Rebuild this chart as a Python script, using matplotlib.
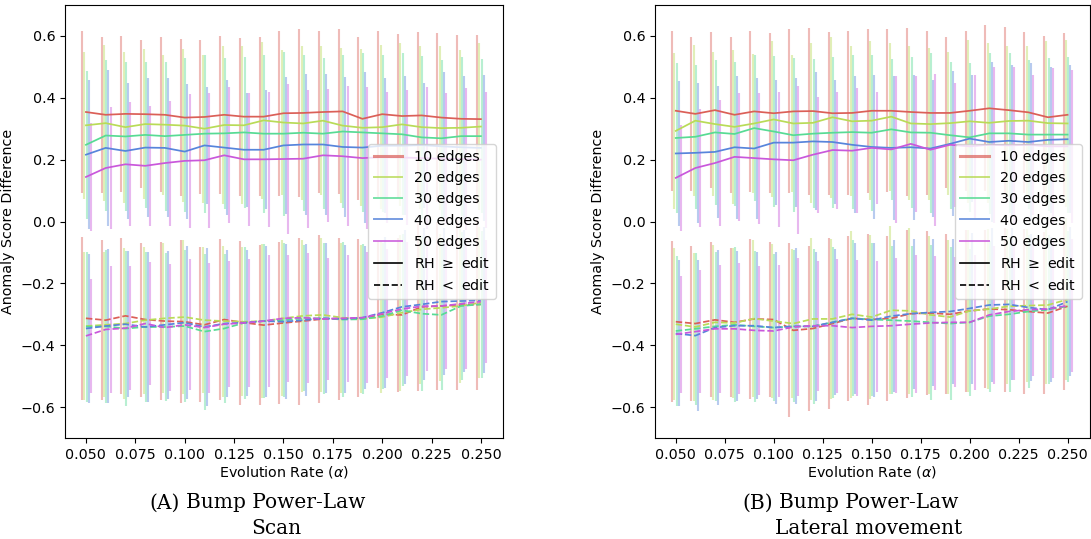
import matplotlib
matplotlib.use('Agg')
import matplotlib.pyplot as plt
from matplotlib.lines import Line2D
import numpy as np
import seaborn as sns

# evolution rates on the x axis
alphas = [0.05, 0.06, 0.07, 0.08, 0.09, 0.10, 0.11, 0.12, 0.13, 0.14, 0.15,
          0.16, 0.17, 0.18, 0.19, 0.20, 0.21, 0.22, 0.23, 0.24, 0.25]
edge_labels = ['10 edges', '20 edges', '30 edges', '40 edges', '50 edges']

# (A) Scan -- RH >= edit
scan_pos_mean = [
    [0.354, 0.345, 0.348, 0.347, 0.345, 0.336, 0.338, 0.345, 0.339, 0.339, 0.350, 0.351, 0.354, 0.356, 0.332, 0.347, 0.341, 0.343, 0.336, 0.332, 0.331],
    [0.311, 0.318, 0.305, 0.315, 0.313, 0.310, 0.300, 0.312, 0.311, 0.327, 0.320, 0.317, 0.326, 0.310, 0.303, 0.305, 0.314, 0.305, 0.302, 0.303, 0.307],
    [0.248, 0.278, 0.275, 0.280, 0.276, 0.280, 0.284, 0.285, 0.288, 0.284, 0.284, 0.287, 0.284, 0.291, 0.288, 0.285, 0.282, 0.272, 0.269, 0.276, 0.276],
    [0.216, 0.238, 0.228, 0.239, 0.238, 0.226, 0.246, 0.239, 0.232, 0.232, 0.246, 0.249, 0.249, 0.241, 0.239, 0.245, 0.245, 0.247, 0.243, 0.240, 0.238],
    [0.144, 0.173, 0.185, 0.180, 0.189, 0.196, 0.198, 0.214, 0.201, 0.201, 0.202, 0.203, 0.214, 0.211, 0.205, 0.208, 0.207, 0.205, 0.203, 0.202, 0.200],
]
scan_pos_std = [
    [0.262, 0.252, 0.253, 0.240, 0.250, 0.254, 0.250, 0.255, 0.255, 0.257, 0.266, 0.272, 0.262, 0.267, 0.263, 0.269, 0.266, 0.270, 0.274, 0.272, 0.273],
    [0.238, 0.253, 0.244, 0.242, 0.226, 0.247, 0.239, 0.257, 0.255, 0.253, 0.235, 0.249, 0.240, 0.250, 0.254, 0.266, 0.264, 0.263, 0.264, 0.252, 0.271],
    [0.239, 0.245, 0.242, 0.237, 0.241, 0.248, 0.255, 0.243, 0.245, 0.255, 0.265, 0.252, 0.244, 0.248, 0.256, 0.254, 0.262, 0.264, 0.254, 0.257, 0.249],
    [0.240, 0.252, 0.221, 0.224, 0.225, 0.219, 0.188, 0.217, 0.185, 0.192, 0.221, 0.228, 0.228, 0.226, 0.243, 0.218, 0.224, 0.202, 0.239, 0.231, 0.236],
    [0.175, 0.197, 0.200, 0.194, 0.202, 0.217, 0.219, 0.220, 0.216, 0.219, 0.243, 0.223, 0.214, 0.226, 0.229, 0.212, 0.217, 0.229, 0.212, 0.229, 0.220],
]
# (A) Scan -- RH < edit
scan_neg_mean = [
    [-0.313, -0.319, -0.305, -0.317, -0.322, -0.324, -0.334, -0.317, -0.327, -0.335, -0.328, -0.322, -0.315, -0.314, -0.313, -0.300, -0.302, -0.276, -0.273, -0.270, -0.268],
    [-0.338, -0.334, -0.330, -0.319, -0.313, -0.309, -0.319, -0.322, -0.324, -0.322, -0.313, -0.305, -0.302, -0.311, -0.315, -0.309, -0.295, -0.284, -0.279, -0.273, -0.262],
    [-0.340, -0.339, -0.346, -0.341, -0.341, -0.338, -0.356, -0.346, -0.328, -0.322, -0.319, -0.313, -0.313, -0.317, -0.316, -0.306, -0.287, -0.298, -0.302, -0.273, -0.268],
    [-0.346, -0.338, -0.332, -0.341, -0.334, -0.327, -0.341, -0.330, -0.327, -0.322, -0.324, -0.319, -0.313, -0.315, -0.311, -0.295, -0.276, -0.268, -0.259, -0.257, -0.255],
    [-0.370, -0.349, -0.345, -0.330, -0.343, -0.334, -0.343, -0.332, -0.328, -0.322, -0.313, -0.311, -0.315, -0.313, -0.311, -0.298, -0.283, -0.274, -0.273, -0.266, -0.259],
]
scan_neg_std = [
    [0.264, 0.258, 0.252, 0.249, 0.256, 0.263, 0.250, 0.260, 0.265, 0.258, 0.262, 0.270, 0.271, 0.262, 0.255, 0.237, 0.248, 0.271, 0.271, 0.274, 0.276],
    [0.240, 0.235, 0.245, 0.238, 0.242, 0.250, 0.236, 0.244, 0.240, 0.248, 0.252, 0.246, 0.250, 0.243, 0.238, 0.246, 0.252, 0.240, 0.238, 0.250, 0.245],
    [0.242, 0.248, 0.250, 0.244, 0.238, 0.246, 0.252, 0.240, 0.245, 0.250, 0.248, 0.236, 0.244, 0.250, 0.242, 0.236, 0.246, 0.250, 0.244, 0.240, 0.238],
    [0.242, 0.250, 0.236, 0.244, 0.240, 0.248, 0.254, 0.238, 0.236, 0.244, 0.250, 0.246, 0.242, 0.238, 0.232, 0.244, 0.250, 0.246, 0.238, 0.230, 0.236],
    [0.183, 0.205, 0.200, 0.198, 0.206, 0.212, 0.210, 0.204, 0.208, 0.214, 0.206, 0.210, 0.198, 0.205, 0.212, 0.208, 0.216, 0.210, 0.205, 0.212, 0.200],
]

# (B) Lateral movement -- RH >= edit
lateral_pos_mean = [
    [0.358, 0.348, 0.360, 0.345, 0.356, 0.350, 0.356, 0.357, 0.350, 0.351, 0.358, 0.358, 0.354, 0.351, 0.351, 0.358, 0.366, 0.360, 0.353, 0.337, 0.345],
    [0.293, 0.326, 0.315, 0.306, 0.317, 0.330, 0.317, 0.319, 0.337, 0.324, 0.326, 0.339, 0.317, 0.315, 0.318, 0.324, 0.319, 0.325, 0.326, 0.318, 0.317],
    [0.270, 0.274, 0.288, 0.283, 0.302, 0.291, 0.279, 0.284, 0.287, 0.289, 0.287, 0.298, 0.288, 0.287, 0.279, 0.272, 0.285, 0.285, 0.281, 0.281, 0.281],
    [0.220, 0.222, 0.225, 0.240, 0.236, 0.255, 0.255, 0.259, 0.257, 0.248, 0.241, 0.238, 0.240, 0.236, 0.251, 0.268, 0.257, 0.261, 0.257, 0.264, 0.266],
    [0.141, 0.173, 0.189, 0.209, 0.205, 0.201, 0.198, 0.216, 0.231, 0.229, 0.238, 0.233, 0.251, 0.232, 0.248, 0.243, 0.248, 0.246, 0.248, 0.243, 0.243],
]
lateral_pos_std = [
    [0.258, 0.250, 0.252, 0.253, 0.260, 0.259, 0.265, 0.270, 0.264, 0.265, 0.266, 0.263, 0.271, 0.265, 0.244, 0.258, 0.268, 0.268, 0.260, 0.263, 0.264],
    [0.251, 0.245, 0.234, 0.249, 0.225, 0.252, 0.222, 0.259, 0.261, 0.242, 0.256, 0.239, 0.249, 0.245, 0.231, 0.263, 0.259, 0.243, 0.240, 0.267, 0.270],
    [0.242, 0.232, 0.235, 0.234, 0.237, 0.245, 0.249, 0.241, 0.244, 0.250, 0.252, 0.227, 0.245, 0.259, 0.238, 0.242, 0.261, 0.259, 0.242, 0.247, 0.252],
    [0.233, 0.227, 0.214, 0.231, 0.227, 0.203, 0.208, 0.223, 0.201, 0.221, 0.232, 0.233, 0.234, 0.222, 0.234, 0.206, 0.260, 0.245, 0.255, 0.237, 0.240],
    [0.172, 0.190, 0.205, 0.206, 0.212, 0.219, 0.239, 0.188, 0.189, 0.202, 0.182, 0.238, 0.220, 0.245, 0.201, 0.231, 0.253, 0.253, 0.226, 0.253, 0.247],
]
# (B) Lateral movement -- RH < edit
lateral_neg_mean = [
    [-0.324, -0.330, -0.318, -0.326, -0.315, -0.317, -0.352, -0.346, -0.330, -0.313, -0.317, -0.313, -0.298, -0.296, -0.300, -0.289, -0.283, -0.285, -0.291, -0.296, -0.274],
    [-0.332, -0.341, -0.326, -0.328, -0.314, -0.322, -0.330, -0.315, -0.315, -0.300, -0.309, -0.287, -0.289, -0.302, -0.309, -0.289, -0.283, -0.274, -0.272, -0.270, -0.252],
    [-0.354, -0.347, -0.339, -0.334, -0.339, -0.343, -0.339, -0.339, -0.326, -0.313, -0.317, -0.319, -0.322, -0.326, -0.330, -0.326, -0.306, -0.300, -0.291, -0.285, -0.274],
    [-0.362, -0.369, -0.343, -0.337, -0.337, -0.343, -0.339, -0.339, -0.326, -0.313, -0.319, -0.306, -0.298, -0.294, -0.291, -0.281, -0.270, -0.268, -0.278, -0.285, -0.259],
    [-0.365, -0.356, -0.347, -0.347, -0.352, -0.354, -0.341, -0.337, -0.337, -0.343, -0.339, -0.337, -0.332, -0.328, -0.326, -0.326, -0.302, -0.291, -0.285, -0.283, -0.272],
]
lateral_neg_std = [
    [0.261, 0.250, 0.251, 0.240, 0.259, 0.250, 0.281, 0.266, 0.277, 0.266, 0.275, 0.266, 0.272, 0.265, 0.258, 0.262, 0.255, 0.265, 0.268, 0.262, 0.270],
    [0.245, 0.238, 0.250, 0.242, 0.255, 0.248, 0.240, 0.262, 0.258, 0.270, 0.265, 0.272, 0.268, 0.255, 0.250, 0.262, 0.258, 0.250, 0.248, 0.255, 0.262],
    [0.242, 0.246, 0.240, 0.250, 0.244, 0.238, 0.246, 0.250, 0.244, 0.252, 0.246, 0.240, 0.244, 0.250, 0.246, 0.238, 0.244, 0.250, 0.246, 0.240, 0.244],
    [0.236, 0.244, 0.250, 0.242, 0.238, 0.246, 0.252, 0.240, 0.236, 0.244, 0.250, 0.246, 0.242, 0.238, 0.236, 0.244, 0.250, 0.246, 0.238, 0.234, 0.240],
    [0.190, 0.200, 0.206, 0.212, 0.208, 0.214, 0.222, 0.210, 0.216, 0.220, 0.212, 0.218, 0.224, 0.216, 0.210, 0.218, 0.224, 0.220, 0.214, 0.222, 0.216],
]

colors = sns.color_palette('hls', 5)
jitter = [-0.002, -0.0008, 0.0004, 0.0014, 0.0025]
x = np.array(alphas)


def draw_panel(ax, pos_mean, pos_std, neg_mean, neg_std):
    for k in range(5):
        c = colors[k]
        ax.errorbar(x + jitter[k], pos_mean[k], yerr=pos_std[k], fmt='none',
                    ecolor=c, elinewidth=1.5, alpha=0.42, zorder=1)
        ax.errorbar(x + jitter[k], neg_mean[k], yerr=neg_std[k], fmt='none',
                    ecolor=c, elinewidth=1.5, alpha=0.42, zorder=1)
    for k in range(5):
        c = colors[k]
        ax.plot(x, pos_mean[k], color=c, lw=1.25, zorder=3)
        ax.plot(x, neg_mean[k], color=c, lw=1.25, ls='--', zorder=3)

    ax.set_xlim(0.0394, 0.2612)
    ax.set_ylim(-0.7, 0.7)
    ax.set_xticks([0.05, 0.075, 0.1, 0.125, 0.15, 0.175, 0.2, 0.225, 0.25])
    ax.set_xticklabels(['0.050', '0.075', '0.100', '0.125', '0.150',
                        '0.175', '0.200', '0.225', '0.250'])
    ax.set_yticks([-0.6, -0.4, -0.2, 0.0, 0.2, 0.4, 0.6])
    ax.tick_params(labelsize=10.3)
    ax.set_xlabel(r'Evolution Rate ($\alpha$)', fontsize=10.3, labelpad=2)
    ax.set_ylabel('Anomaly Score Difference', fontsize=10.3)

    handles = [Line2D([], [], color=colors[0], lw=2.2, alpha=0.7)]
    handles += [Line2D([], [], color=colors[k], lw=1.4, alpha=0.8) for k in range(1, 5)]
    handles += [Line2D([], [], color='black', lw=1.2),
                Line2D([], [], color='black', lw=1.2, ls='--')]
    labels = edge_labels + [r'RH $\geq$ edit', r'RH $<$ edit']
    ax.legend(handles, labels, loc='center right', fontsize=10.3)


fig = plt.figure(figsize=(10.91, 5.39), dpi=100)
ax1 = fig.add_axes([65 / 1091, 101 / 539, 438 / 1091, 433 / 539])
ax2 = fig.add_axes([655 / 1091, 101 / 539, 434.5 / 1091, 433 / 539])

draw_panel(ax1, scan_pos_mean, scan_pos_std, scan_neg_mean, scan_neg_std)
draw_panel(ax2, lateral_pos_mean, lateral_pos_std, lateral_neg_mean, lateral_neg_std)

# captions: label hangs left of the centred caption block
cap = dict(va='center', fontsize=14.5, family='DejaVu Serif')
for cx, tag, second in [(276, '(A)', 'Scan'), (869, '(B)', 'Lateral movement')]:
    fig.text(cx / 1091, 1 - 503 / 539, 'Bump Power-Law', ha='center', **cap)
    fig.text((cx - 96) / 1091, 1 - 503 / 539, tag, ha='right', **cap)
    fig.text(cx / 1091, 1 - 528 / 539, second, ha='center', **cap)

fig.savefig('out.png', dpi=100)
